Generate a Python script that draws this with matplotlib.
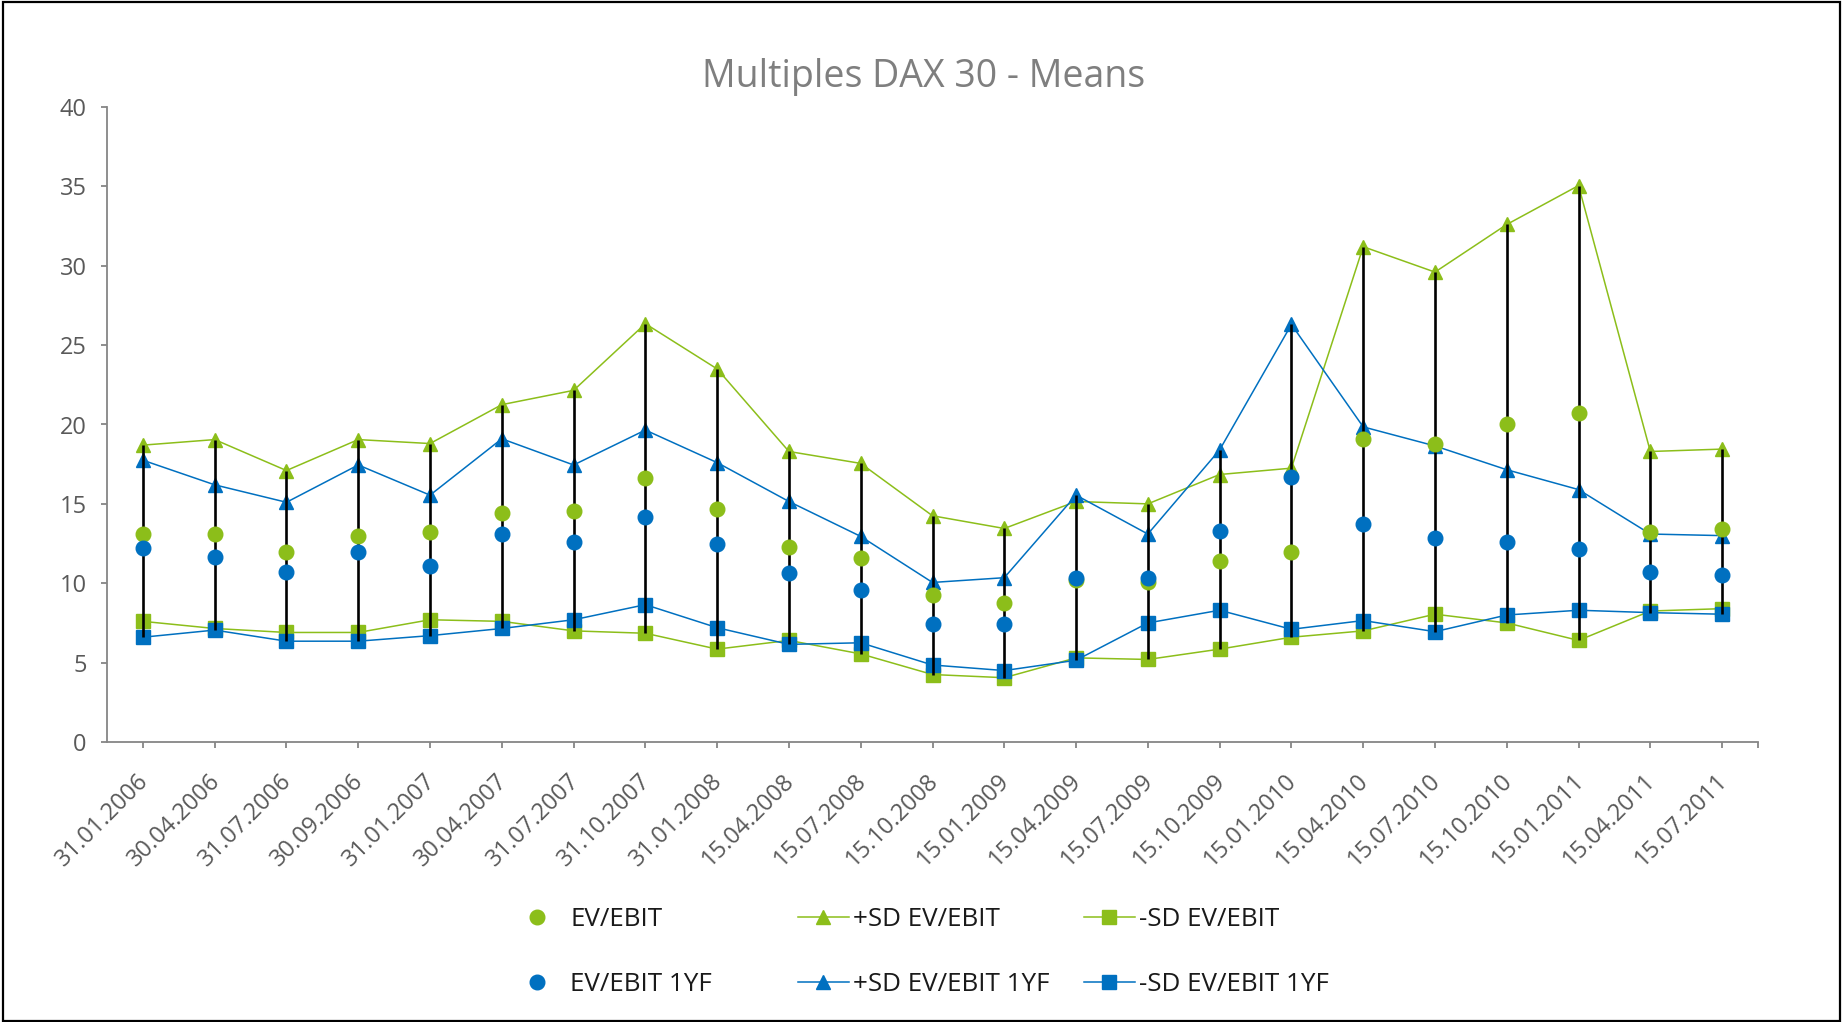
import numpy as np
import matplotlib
matplotlib.use("Agg")
import matplotlib.pyplot as plt
from matplotlib.patches import Rectangle
import matplotlib.transforms as mtransforms

plt.rcParams['font.family'] = ['Open Sans', 'DejaVu Sans']

dates = ["31.01.2006", "30.04.2006", "31.07.2006", "30.09.2006", "31.01.2007",
         "30.04.2007", "31.07.2007", "31.10.2007", "31.01.2008", "15.04.2008",
         "15.07.2008", "15.10.2008", "15.01.2009", "15.04.2009", "15.07.2009",
         "15.10.2009", "15.01.2010", "15.04.2010", "15.07.2010", "15.10.2010",
         "15.01.2011", "15.04.2011", "15.07.2011"]

ev_ebit = [13.1, 13.1, 12.0, 13.0, 13.25, 14.4, 14.55, 16.6, 14.7, 12.3, 11.6,
           9.25, 8.75, 10.2, 10.1, 11.4, 11.95, 19.1, 18.8, 20.05, 20.75, 13.25, 13.4]
ev_ebit_1yf = [12.2, 11.65, 10.7, 11.95, 11.1, 13.1, 12.6, 14.2, 12.45, 10.65, 9.6,
               7.45, 7.45, 10.35, 10.3, 13.3, 16.7, 13.75, 12.85, 12.6, 12.15, 10.7, 10.55]
plus_sd = [18.7, 19.05, 17.1, 19.05, 18.8, 21.25, 22.15, 26.35, 23.5, 18.3, 17.55,
           14.25, 13.45, 15.15, 15.0, 16.85, 17.25, 31.2, 29.6, 32.6, 35.05, 18.3, 18.45]
minus_sd = [7.6, 7.15, 6.9, 6.9, 7.7, 7.6, 7.0, 6.85, 5.85, 6.4, 5.55,
            4.25, 4.05, 5.3, 5.2, 5.85, 6.6, 7.0, 8.05, 7.5, 6.4, 8.25, 8.4]
plus_sd_1yf = [17.75, 16.2, 15.1, 17.45, 15.55, 19.1, 17.45, 19.65, 17.6, 15.15, 12.95,
               10.05, 10.35, 15.55, 13.1, 18.4, 26.3, 19.85, 18.65, 17.15, 15.9, 13.1, 13.0]
minus_sd_1yf = [6.6, 7.05, 6.35, 6.35, 6.7, 7.15, 7.7, 8.65, 7.2, 6.15, 6.25,
                4.85, 4.5, 5.15, 7.5, 8.3, 7.1, 7.65, 6.95, 8.0, 8.3, 8.15, 8.05]

GREEN = '#8CBE1A'
BLUE = '#0070C0'
AXIS_GREY = '#868686'
TEXT_GREY = '#595959'

W, H = 1843, 1022
fig = plt.figure(figsize=(W / 100, H / 100), dpi=100)
fig.patch.set_facecolor('white')

ax = fig.add_axes([107 / W, (H - 742) / H, (1758 - 107) / W, (742 - 107) / H])
x = np.arange(len(dates))
ms = 10.5

h_ps, = ax.plot(x, plus_sd, color=GREEN, lw=1.1, marker='^', ms=ms, mec=GREEN, zorder=2, label='+SD EV/EBIT')
h_ms, = ax.plot(x, minus_sd, color=GREEN, lw=1.1, marker='s', ms=ms, mec=GREEN, zorder=2, label='-SD EV/EBIT')
h_ps1, = ax.plot(x, plus_sd_1yf, color=BLUE, lw=1.1, marker='^', ms=ms, mec=BLUE, zorder=2, label='+SD EV/EBIT 1YF')
h_ms1, = ax.plot(x, minus_sd_1yf, color=BLUE, lw=1.1, marker='s', ms=ms, mec=BLUE, zorder=2, label='-SD EV/EBIT 1YF')

allv = np.vstack([ev_ebit, ev_ebit_1yf, plus_sd, minus_sd, plus_sd_1yf, minus_sd_1yf])
ax.vlines(x, allv.min(axis=0), allv.max(axis=0), colors='black', lw=1.9, zorder=3)

h_e, = ax.plot(x, ev_ebit, ls='none', marker='o', ms=ms, color=GREEN, mec=GREEN, zorder=4, label='EV/EBIT')
h_e1, = ax.plot(x, ev_ebit_1yf, ls='none', marker='o', ms=ms, color=BLUE, mec=BLUE, zorder=4, label='EV/EBIT 1YF')

ax.set_xlim(-0.5, len(dates) - 0.5)
ax.set_ylim(0, 40)
ax.set_yticks(np.arange(0, 41, 5))
ax.set_xticks(x)
ax.set_xticks([len(dates) - 0.5], minor=True)
ax.set_xticklabels(dates)

for s in ['top', 'right']:
    ax.spines[s].set_visible(False)
for s in ['left', 'bottom']:
    ax.spines[s].set_color(AXIS_GREY)
    ax.spines[s].set_linewidth(1.3)

ax.tick_params(axis='both', which='both', direction='out', length=4.5, width=1.3,
               color=AXIS_GREY, labelcolor=TEXT_GREY, labelsize=17)
ax.tick_params(axis='y', pad=10)
ax.tick_params(axis='x', pad=21)

offset = mtransforms.ScaledTranslation(2 / 100, 0, fig.dpi_scale_trans)
for lab in ax.get_xticklabels():
    lab.set_rotation(45)
    lab.set_ha('right')
    lab.set_va('center')
    lab.set_rotation_mode('anchor')
    lab.set_transform(lab.get_transform() + offset)

fig.text(924 / W, (H - 76.5) / H, 'Multiples DAX 30 - Means', ha='center', va='center',
         fontsize=27, color='#7F7F7F')

leg_kw = dict(loc='center left', frameon=False, borderpad=0, borderaxespad=0,
              handlelength=1.95, fontsize=18.7, labelspacing=1.55, labelcolor='#1A1A1A')
ycen = (H - 952) / H
fig.legend(handles=[h_e, h_e1], labels=['EV/EBIT', 'EV/EBIT 1YF'],
           bbox_to_anchor=(512 / W, ycen), handletextpad=0.3, **leg_kw)
fig.legend(handles=[h_ps, h_ps1], labels=['+SD EV/EBIT', '+SD EV/EBIT 1YF'],
           bbox_to_anchor=(798 / W, ycen), handletextpad=0.15, **leg_kw)
fig.legend(handles=[h_ms, h_ms1], labels=['-SD EV/EBIT', '-SD EV/EBIT 1YF'],
           bbox_to_anchor=(1084 / W, ycen), handletextpad=0.15, **leg_kw)

fig.patches.append(Rectangle((3 / W, 1.5 / H), (1840 - 3) / W, (1020 - 1.5) / H,
                             transform=fig.transFigure, fill=False, edgecolor='black',
                             lw=1.6, zorder=10))

fig.savefig('out.png', dpi=100, facecolor='white')
